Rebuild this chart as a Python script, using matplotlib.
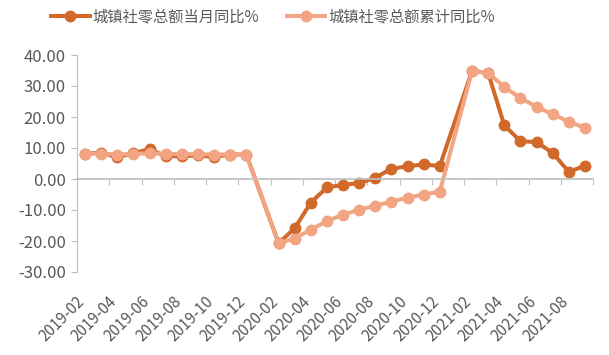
import numpy as np
import pandas as pd
import matplotlib
matplotlib.use("Agg")
import matplotlib.pyplot as plt
from matplotlib.ticker import FormatStrFormatter, FixedLocator
from matplotlib.transforms import ScaledTranslation

plt.rcParams['font.family'] = ['Noto Sans CJK SC', 'DejaVu Sans']

# 城镇社零总额 当月/累计 同比 (%), no January values (Jan-Feb combined)
months = ['2019-02', '2019-03', '2019-04', '2019-05', '2019-06', '2019-07',
          '2019-08', '2019-09', '2019-10', '2019-11', '2019-12',
          '2020-02', '2020-03', '2020-04', '2020-05', '2020-06', '2020-07',
          '2020-08', '2020-09', '2020-10', '2020-11', '2020-12',
          '2021-02', '2021-03', '2021-04', '2021-05', '2021-06', '2021-07',
          '2021-08', '2021-09']
monthly = [8.1, 8.5, 7.0, 8.4, 9.6, 7.4, 7.3, 7.6, 7.1, 7.9, 7.9,
           -20.7, -15.9, -7.6, -2.7, -1.9, -1.3, 0.4, 3.3, 4.1, 4.7, 4.2,
           34.9, 34.2, 17.3, 12.2, 11.9, 8.4, 2.3, 4.3]
cumulative = [8.1, 8.2, 7.9, 8.1, 8.3, 8.1, 8.0, 8.0, 7.9, 7.9, 7.9,
              -20.7, -19.2, -16.3, -13.6, -11.5, -9.9, -8.6, -7.3, -6.0, -5.0, -4.1,
              34.9, 34.2, 29.7, 26.1, 23.3, 20.9, 18.5, 16.5]
tick_months = ['2019-02', '2019-04', '2019-06', '2019-08', '2019-10', '2019-12',
               '2020-02', '2020-04', '2020-06', '2020-08', '2020-10', '2020-12',
               '2021-02', '2021-04', '2021-06', '2021-08']

dark = '#D0692A'
light = '#F2A483'
grey = '#BFBFBF'
txt = '#595959'

start = pd.Period('2019-02', freq='M')
x = np.array([(pd.Period(m, freq='M') - start).n for m in months])
tick_x = np.array([(pd.Period(m, freq='M') - start).n for m in tick_months])

fig = plt.figure(figsize=(6.09, 3.55), dpi=100)
ax = fig.add_axes([77/609, 1-272/355, (593-77)/609, (272-55)/355])

ax.plot(x, monthly, color=dark, lw=2.9, marker='o', ms=7.5, label='城镇社零总额当月同比%')
ax.plot(x, cumulative, color=light, lw=2.9, marker='o', ms=7.5, label='城镇社零总额累计同比%')

ax.set_xlim(-0.5, x[-1] + 0.5)
ax.set_ylim(-30, 40)
ax.set_yticks(np.arange(-30, 41, 10))
ax.yaxis.set_major_formatter(FormatStrFormatter('%.2f'))
ax.tick_params(axis='y', colors=grey, labelcolor=txt, labelsize=12, length=4, pad=4)

for s in ['top', 'right']:
    ax.spines[s].set_visible(False)
ax.spines['left'].set_color(grey)
ax.spines['bottom'].set_position(('data', 0))
ax.spines['bottom'].set_color(grey)
ax.spines['bottom'].set_linewidth(1.2)

# tick marks at month boundaries on the zero line, no labels
ax.xaxis.set_major_locator(FixedLocator(np.arange(-0.5, x[-1] + 1, 2)))
ax.tick_params(axis='x', colors=grey, length=4, labelbottom=False)

# date labels along the bottom
sec = ax.secondary_xaxis('bottom')
sec.spines['bottom'].set_visible(False)
sec.set_xticks(tick_x, tick_months)
sec.tick_params(axis='x', length=0, pad=15, labelsize=11, labelcolor=txt)
shift = ScaledTranslation(3/100, 0, fig.dpi_scale_trans)
for lab in sec.get_xticklabels():
    lab.set_rotation(45)
    lab.set_ha('right')
    lab.set_transform(lab.get_transform() + shift)

fig.legend(loc='center', bbox_to_anchor=(273/609, 1-17/355), ncol=2, frameon=False,
           fontsize=11, handlelength=2.5, columnspacing=1.8, handletextpad=0.2,
           labelcolor=txt)

fig.savefig('out.png', dpi=100)
